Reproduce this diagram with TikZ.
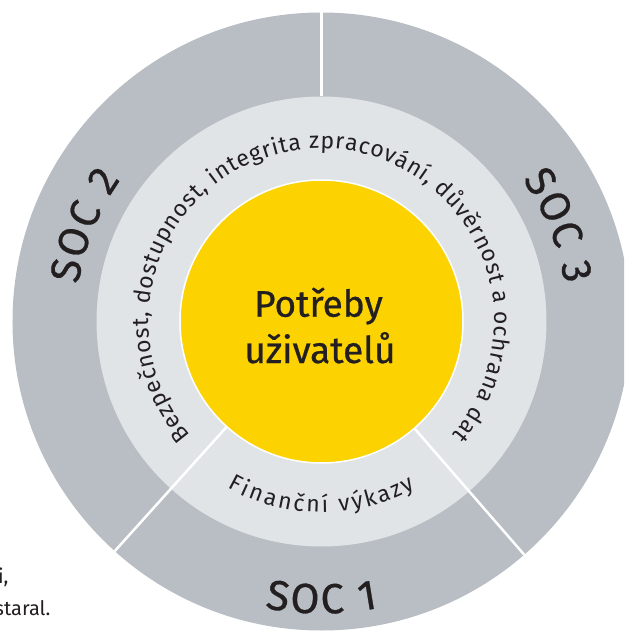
\documentclass[tikz,border=0pt]{standalone}
\usepackage{fontspec}
\setmainfont{Fira Sans}
\newfontfamily\heavyfam{Fira Sans}[FakeBold=0.7]
\usetikzlibrary{decorations.text}
\definecolor{outergrey}{HTML}{B8BEC3}
\definecolor{ringgrey}{HTML}{E1E4E7}
\definecolor{eyyellow}{HTML}{FCD200}
\definecolor{inkdark}{HTML}{231F20}
\newcommand{\ringfont}{\fontsize{23}{27}\selectfont}
\newcommand{\socfont}{\heavyfam\fontsize{42}{48}\selectfont}
\newcommand{\corefont}{\heavyfam\fontsize{37}{46}\selectfont}
\newcommand{\parafont}{\fontsize{20}{24}\selectfont}
\begin{document}
\begin{tikzpicture}[x=1pt,y=1pt,
  disc/.style={circle, inner sep=0pt, outer sep=0pt},
  sep/.style={draw=white, line width=2.5pt},
  arctext/.style={decorate, decoration={text along path, text align=fit to path, text color=inkdark, text={#1}}}
]
\useasboundingbox (-321.5,-310.5) rectangle (302.5,321.5);
\begin{scope}
\clip (-321.5,-310.5) rectangle (302.5,321.5);
\node[disc, fill=outergrey, minimum size=618pt] (outer) at (0,0) {};
\node[disc, fill=ringgrey, minimum size=450pt] (ring) at (0,0) {};
\node[disc, fill=eyyellow, draw=white, line width=1.5pt, minimum size=283pt] (core) at (0,0) {};
\draw[sep] (ring.90) -- (outer.90);
\draw[sep] (core.228.5) -- (outer.228.5);
\draw[sep] (core.311.5) -- (outer.311.5);
\node[font=\corefont, text=inkdark, anchor=base] (t1) at (-3,4.8) {Potřeby};
\node[font=\corefont, text=inkdark, anchor=base] (t2) at (-1.5,-41.5) {uživatelů};
\path[arctext={|\ringfont|Bezpečnost, dostupnost, integrita zpracování, důvěrnost a ochrana dat}] (221:173) arc[start angle=221, end angle=-41, radius=173];
\path[arctext={|\ringfont|Finanční výkazy}] (240.5:191) arc[start angle=240.5, end angle=299.5, radius=191];
\path[arctext={|\socfont|SOC 2}] (171.3:246) arc[start angle=171.3, end angle=144.7, radius=246];
\path[arctext={|\socfont|SOC 3}] (35.3:246) arc[start angle=35.3, end angle=8.7, radius=246];
\path[arctext={|\socfont|SOC 1}] (258.8:292) arc[start angle=258.8, end angle=281.2, radius=292];
\node[font=\parafont, text=inkdark, anchor=base east] (p1) at (-309.5,-261.5) {i,};
\node[font=\parafont, text=inkdark, anchor=base east] (p2) at (-267.5,-293.5) {staral.};
\end{scope}
\end{tikzpicture}
\end{document}
